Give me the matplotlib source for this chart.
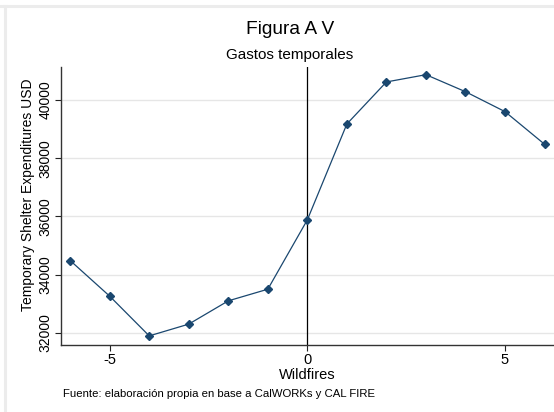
import matplotlib.pyplot as plt
from matplotlib.lines import Line2D

plt.rcParams['font.family'] = ['Liberation Sans', 'DejaVu Sans']

# --- Data ---
periods = [-6, -5, -4, -3, -2, -1, 0, 1, 2, 3, 4, 5, 6]
expenditures = [34480, 33255, 31890, 32295, 33095, 33495, 35880,
                39175, 40620, 40870, 40285, 39600, 38480]
x_ticks = [-5, 0, 5]
y_ticks = [32000, 34000, 36000, 38000, 40000]

W, H = 554, 412
fig = plt.figure(figsize=(W / 100, H / 100), dpi=100)
fig.patch.set_facecolor('white')

# axes box in pixel coords
left, right, top, bottom = 60.7, 554, 67, 345
ax = fig.add_axes([left / W, 1 - bottom / H, (right - left) / W, (bottom - top) / H])

ax.plot(periods, expenditures, color='#1a476f', linewidth=0.9,
        marker='D', markersize=4.5, markerfacecolor='#1a476f',
        markeredgecolor='#1a476f', zorder=3)
ax.axvline(0, color='black', linewidth=0.9, zorder=2)

ax.set_xlim(-6.24, 6.24)
ax.set_ylim(31577, 41134)
ax.set_xticks(x_ticks)
ax.set_xticklabels(['-5', '0', '5'], fontsize=10.5)
ax.set_yticks(y_ticks)
ax.set_yticklabels([str(v) for v in y_ticks], fontsize=10, rotation=90, va='center')
ax.tick_params(axis='both', direction='out', length=4, width=0.8, color='#222222', pad=2)

ax.grid(axis='y', color='#e6e6e6', linewidth=1.0)
ax.set_axisbelow(True)
for s in ['top', 'right']:
    ax.spines[s].set_visible(False)
for s in ['left', 'bottom']:
    ax.spines[s].set_color('#333333')
    ax.spines[s].set_linewidth(1.0)

ax.set_xlabel('Wildfires', fontsize=10.5, labelpad=0.5)
fig.text(28 / W, 1 - 195 / H, 'Temporary Shelter Expenditures USD', rotation=90,
         ha='center', va='center', fontsize=10)

# titles and note
fig.text(290 / W, 1 - 30 / H, 'Figura A V', ha='center', va='center', fontsize=13.8)
fig.text(290 / W, 1 - 55 / H, 'Gastos temporales', ha='center', va='center', fontsize=11)
fig.text(63 / W, 1 - 394 / H, 'Fuente: elaboración propia en base a CalWORKs y CAL FIRE',
         ha='left', va='center', fontsize=8.2)

# light frame strips at top and left
fig.add_artist(Line2D([0, 1], [1 - 6 / H, 1 - 6 / H], color='#ececec', linewidth=2.2,
                      transform=fig.transFigure))
fig.add_artist(Line2D([4.5 / W, 4.5 / W], [0, 1 - 6 / H], color='#ececec', linewidth=2.2,
                      transform=fig.transFigure))

fig.savefig('out.png', dpi=100, facecolor=fig.get_facecolor())
